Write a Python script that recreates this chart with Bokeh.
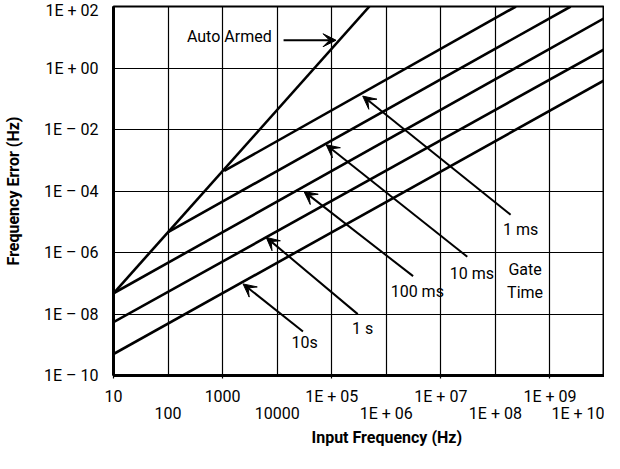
from bokeh.plotting import figure
from bokeh.models import (Range1d, FixedTicker, LogAxis, Title, Arrow, VeeHead,
                          ColumnDataSource)
from bokeh.core.properties import value
from bokeh.embed import file_html
from bokeh.resources import INLINE

FONT = "Roboto"
FS = "16px"

# ---- data (Hz) ----
freq_auto = [10, 4.9e5]
err_auto = [4.7e-8, 1e2]

freq_1ms = [1.07e3, 2.38e8]
err_1ms = [4.5e-4, 1e2]

freq_10ms = [1e2, 2.4e9]
err_10ms = [4.6e-6, 1e2]

freq_100ms = [10, 1e10]
err_100ms = [4.7e-8, 42]

freq_1s = [10, 1e10]
err_1s = [5.4e-9, 4.1]

freq_10s = [10, 1e10]
err_10s = [5.0e-10, 0.40]

# tick values / labels
y_ticks = [1e-10, 1e-8, 1e-6, 1e-4, 1e-2, 1e0, 1e2]
y_labels = ["1E – 10", "1E – 08", "1E – 06", "1E – 04", "1E – 02", "1E + 00", "1E + 02"]
x_ticks_row1 = [1e1, 1e3, 1e5, 1e7, 1e9]
x_labels_row1 = ["10", "1000", "1E + 05", "1E + 07", "1E + 09"]
x_ticks_row2 = [1e2, 1e4, 1e6, 1e8, 1e10]
x_labels_row2 = ["100", "10000", "1E + 06", "1E + 08", "1E + 10"]
x_grid = [1e1, 1e2, 1e3, 1e4, 1e5, 1e6, 1e7, 1e8, 1e9, 1e10]

# annotation texts and arrows (data coordinates)
note_text = ["Auto Armed", "1 ms", "10 ms", "100 ms", "1 s", "10s", "Gate", "Time"]
note_x = [222, 2.9e8, 3.7e7, 3.7e6, 3.7e5, 3.2e4, 3.5e8, 3.5e8]
note_y = [10.5, 5.6e-6, 2.1e-7, 5.3e-8, 3.3e-9, 1.2e-9, 2.8e-7, 4.9e-8]
note_align = ["left", "center", "center", "center", "center", "center", "center", "center"]

arrow_x0 = [1.31e4, 1.9e8, 3.05e7, 3.1e6, 3.0e5, 2.97e4]
arrow_y0 = [8.0, 1.7e-5, 7.3e-7, 1.7e-7, 9.9e-9, 2.7e-9]
arrow_x1 = [1.2e5, 3.7e5, 7.9e4, 3.1e4, 6.3e3, 2.37e3]
arrow_y1 = [8.0, 0.122, 3.2e-3, 9.7e-5, 3.1e-6, 9.5e-8]

p = figure(width=604, height=446, x_axis_type="log", y_axis_type="log",
           x_range=Range1d(10, 1e10), y_range=Range1d(1e-10, 1e2),
           output_backend="svg", toolbar_location=None,
           min_border_left=104, min_border_right=0, min_border_top=6,
           min_border_bottom=0)
p.background_fill_color = "white"
p.border_fill_color = "white"
p.outline_line_color = "black"
p.outline_line_width = 2

# grids
p.xgrid.ticker = FixedTicker(ticks=x_grid)
p.ygrid.ticker = FixedTicker(ticks=y_ticks)
for g in (p.xgrid, p.ygrid):
    g.grid_line_color = "black"
    g.grid_line_width = 1.2
    g.grid_line_alpha = 1.0
    g.minor_grid_line_color = None

# y axis
ya = p.yaxis[0]
ya.ticker = FixedTicker(ticks=y_ticks)
ya.major_label_overrides = dict(zip(y_ticks, y_labels))
ya.major_tick_in = 0
ya.major_tick_out = 0
ya.minor_tick_line_color = None
ya.axis_line_width = 3
ya.major_label_standoff = 15
ya.major_label_text_font = FONT
ya.major_label_text_font_size = FS
ya.major_label_text_color = "black"
ya.axis_label = "Frequency Error (Hz)"
ya.axis_label_text_font = FONT
ya.axis_label_text_font_size = FS
ya.axis_label_text_font_style = "bold"
ya.axis_label_text_color = "black"
ya.axis_label_standoff = 18

# x axis row 1
xa = p.xaxis[0]
xa.ticker = FixedTicker(ticks=x_ticks_row1)
xa.major_label_overrides = dict(zip(x_ticks_row1, x_labels_row1))
xa.major_tick_in = 0
xa.major_tick_out = 3
xa.major_tick_line_width = 1.2
xa.minor_tick_line_color = None
xa.axis_line_width = 3
xa.major_label_standoff = 8
xa.axis_label_standoff = 0
xa.major_label_text_align = "right"
xa.major_label_text_font = FONT
xa.major_label_text_font_size = FS
xa.major_label_text_color = "black"

# x axis row 2
xb = LogAxis(ticker=FixedTicker(ticks=x_ticks_row2))
xb.major_label_overrides = dict(zip(x_ticks_row2, x_labels_row2))
xb.axis_line_color = None
xb.major_tick_line_color = None
xb.minor_tick_line_color = None
xb.major_tick_in = 0
xb.major_tick_out = 0
xb.major_label_standoff = -5
xb.axis_label_standoff = 0
xb.major_label_text_align = "right"
xb.major_label_text_font = FONT
xb.major_label_text_font_size = FS
xb.major_label_text_color = "black"
p.add_layout(xb, "below")

xt = Title(text="Input Frequency (Hz)", align="left", offset=198, standoff=0,
           text_font=FONT, text_font_size=FS, text_font_style="bold",
           text_color="black")
p.add_layout(xt, "below")

# data lines
for fx, ey in [(freq_auto, err_auto), (freq_1ms, err_1ms), (freq_10ms, err_10ms),
               (freq_100ms, err_100ms), (freq_1s, err_1s), (freq_10s, err_10s)]:
    p.line(fx, ey, line_color="black", line_width=2.6)

# arrows
arrow_src = ColumnDataSource(dict(x0=arrow_x0, y0=arrow_y0, x1=arrow_x1, y1=arrow_y1))
p.add_layout(Arrow(source=arrow_src, x_start="x0", y_start="y0", x_end="x1", y_end="y1",
                   line_color="black", line_width=2,
                   end=VeeHead(size=13, fill_color="black", line_color="black")))

# notes
note_src = ColumnDataSource(dict(x=note_x, y=note_y, t=note_text, a=note_align))
p.text(x="x", y="y", text="t", text_align="a", text_baseline="middle",
       text_font=value(FONT), text_font_size=FS, text_color="black",
       source=note_src)

open("out.html", "w").write(file_html(p, INLINE))
